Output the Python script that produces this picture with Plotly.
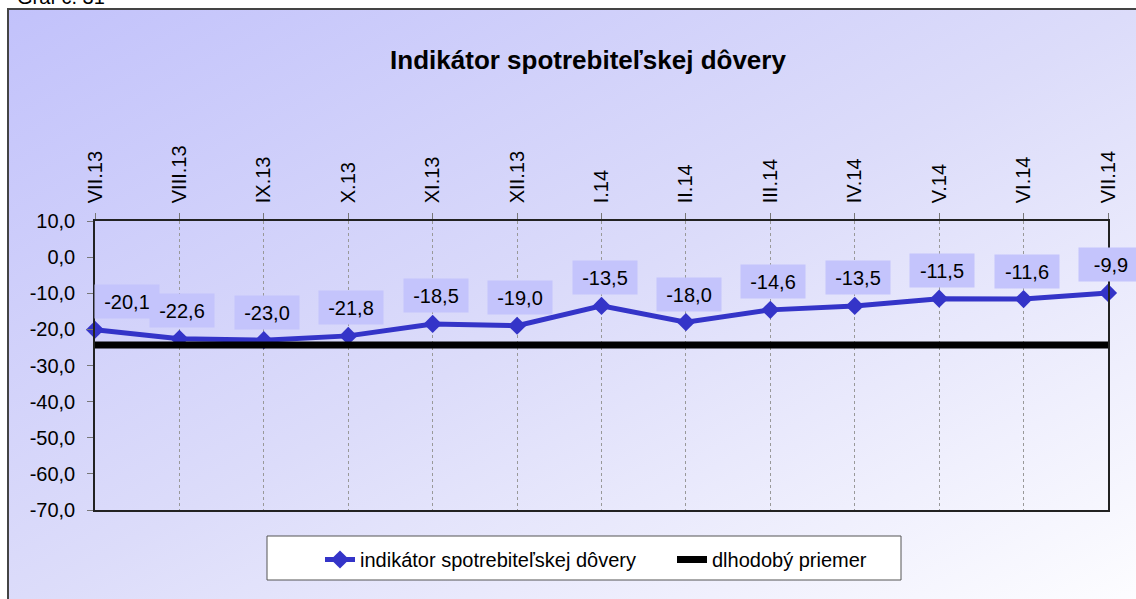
import base64
import plotly.graph_objects as go

# data
months = ["VII.13", "VIII.13", "IX.13", "X.13", "XI.13", "XII.13", "I.14",
          "II.14", "III.14", "IV.14", "V.14", "VI.14", "VII.14"]
indicator = [-20.1, -22.6, -23.0, -21.8, -18.5, -19.0, -13.5,
             -18.0, -14.6, -13.5, -11.5, -11.6, -9.9]
long_term_avg = [-24.3] * len(months)
y_tick_vals = [10, 0, -10, -20, -30, -40, -50, -60, -70]
y_tick_labels = ["10,0", "0,0", "-10,0", "-20,0", "-30,0", "-40,0", "-50,0", "-60,0", "-70,0"]

FONT = "Arial, Liberation Sans, sans-serif"
W, H = 1136, 599
L, R, T, B = 95, 1108, 221, 510   # plot area in px


def px_x(x):
    return (x - L) / (R - L)


def px_y(y):
    return (B - y) / (B - T)


# gradient background as an svg image
svg = ('<svg xmlns="http://www.w3.org/2000/svg" width="100" height="100" preserveAspectRatio="none">'
       '<defs><linearGradient id="g" x1="0" y1="0" x2="1" y2="1">'
       '<stop offset="0" stop-color="#c2c2fb"/><stop offset="0.5" stop-color="#dcdcfa"/>'
       '<stop offset="1" stop-color="#fdfdff"/></linearGradient></defs>'
       '<rect width="100" height="100" fill="url(#g)"/></svg>')
svg_uri = "data:image/svg+xml;base64," + base64.b64encode(svg.encode()).decode()

fig = go.Figure()

fig.add_trace(go.Scatter(
    x=months, y=indicator,
    name="indikátor spotrebiteľskej dôvery",
    mode="lines+markers",
    line=dict(color="#3434c8", width=5),
    marker=dict(symbol="diamond", size=14, color="#3434c8"),
    cliponaxis=False,
))

fig.add_trace(go.Scatter(
    x=months, y=long_term_avg,
    name="dlhodobý priemer",
    mode="lines",
    line=dict(color="black", width=7),
    cliponaxis=False,
))

# data labels
for i, (m, v) in enumerate(zip(months, indicator)):
    fig.add_annotation(
        x=m, y=v, xref="x", yref="y",
        text=f"{v:.1f}".replace(".", ","),
        showarrow=False,
        bgcolor="#c4c4fc",
        width=56, height=25, borderpad=4,
        font=dict(family=FONT, size=20, color="black"),
        xshift=32 if i == 0 else 3,
        yshift=28,
    )

fig.add_annotation(
    text="Graf č. 31", xref="paper", yref="paper",
    x=px_x(15), y=px_y(10), xanchor="left", yanchor="bottom",
    showarrow=False, font=dict(family=FONT, size=20, color="black"),
)

fig.update_layout(
    width=W, height=H,
    margin=dict(l=L, r=W - R, t=T, b=H - B),
    paper_bgcolor="white",
    plot_bgcolor="rgba(0,0,0,0)",
    font=dict(family=FONT, size=20, color="black"),
    title=dict(
        text="<b>Indikátor spotrebiteľskej dôvery</b>",
        xref="container", yref="container",
        x=588 / W, y=1 - 60 / H, xanchor="center", yanchor="middle",
        font=dict(family=FONT, size=26, color="black"),
    ),
    images=[dict(
        source=svg_uri, xref="paper", yref="paper",
        x=px_x(8), y=px_y(9), sizex=px_x(1140) - px_x(8), sizey=px_y(9) - px_y(605),
        xanchor="left", yanchor="top", sizing="stretch", layer="below",
    )],
    shapes=[
        dict(type="rect", xref="paper", yref="paper", layer="below",
             x0=px_x(8), x1=px_x(1145), y0=px_y(610), y1=px_y(9),
             line=dict(color="#444", width=2), fillcolor="rgba(0,0,0,0)"),
        dict(type="rect", xref="paper", yref="paper", layer="below",
             x0=px_x(267), x1=px_x(901), y0=px_y(580), y1=px_y(536),
             line=dict(color="#555", width=1), fillcolor="white"),
    ],
    showlegend=True,
    legend=dict(
        orientation="h",
        x=px_x(320), y=px_y(540), xanchor="left", yanchor="top",
        bgcolor="rgba(0,0,0,0)", borderwidth=0,
        entrywidth=307, entrywidthmode="pixels",
        font=dict(family=FONT, size=20, color="black"),
    ),
    xaxis=dict(
        type="category", range=[0, len(months) - 1],
        side="top", tickangle=-90,
        ticks="outside", ticklen=6, tickcolor="#777",
        showgrid=True, gridcolor="#999", griddash="dot", gridwidth=1,
        showline=True, linecolor="#222", linewidth=1.5, mirror=True,
        tickfont=dict(family=FONT, size=20),
        ticklabelstandoff=6,
        fixedrange=True,
    ),
    yaxis=dict(
        range=[-70, 10], tickvals=y_tick_vals, ticktext=y_tick_labels,
        ticks="outside", ticklen=6, tickcolor="#777",
        showgrid=False, zeroline=False,
        showline=True, linecolor="#222", linewidth=1.5, mirror=True,
        tickfont=dict(family=FONT, size=20),
        ticklabelstandoff=8,
        fixedrange=True,
    ),
)

fig.write_html("out.html", config={"displayModeBar": False},
               post_script="document.body.style.margin='0';")
